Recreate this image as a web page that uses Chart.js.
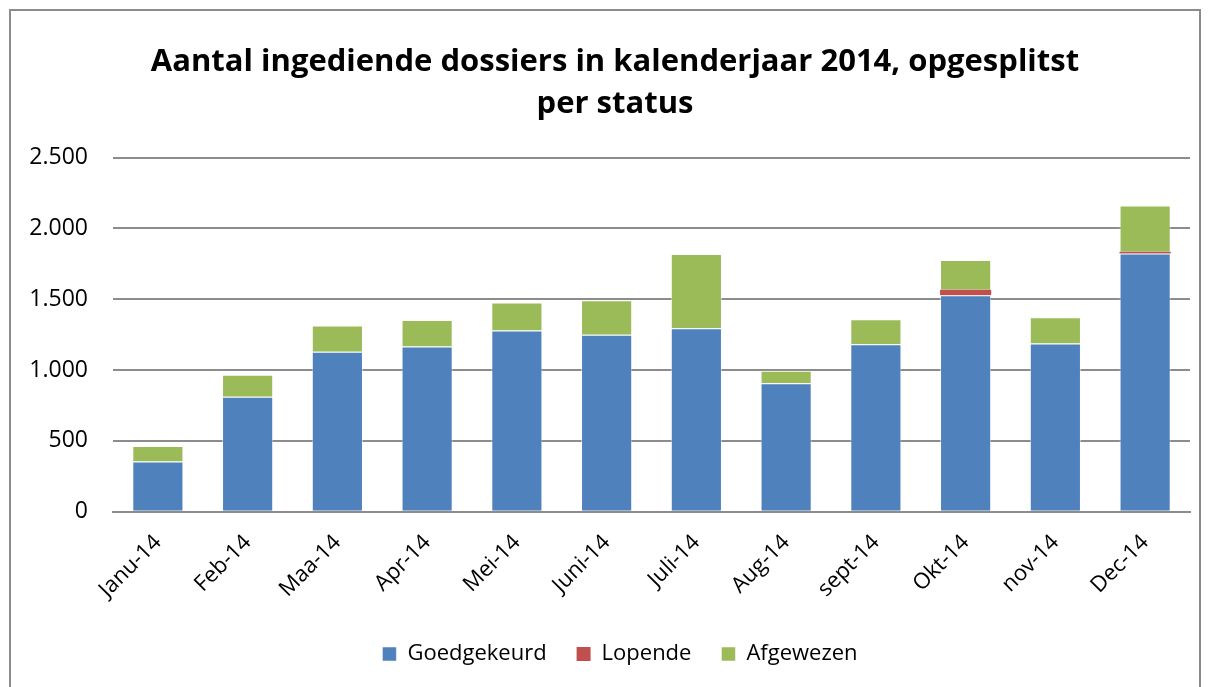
<!DOCTYPE html>
<html>
<head>
<meta charset="utf-8">
<script src="https://cdn.jsdelivr.net/npm/chart.js@4.4.1/dist/chart.umd.min.js"></script>
<style>
  html, body { margin: 0; padding: 0; background: #fff; }
  #wrap { position: relative; width: 1209px; height: 687px; overflow: hidden; }
  #frame { position: absolute; left: 9px; top: 9px; width: 1188px; height: 700px;
           border: 2px solid #8c8c8c; pointer-events: none; }
  canvas { position: absolute; left: 0; top: 0; }
</style>
</head>
<body>
<div id="wrap">
  <canvas id="myChart" width="1209" height="687"></canvas>
  <div id="frame"></div>
</div>
<script>
// months as shown on the x axis
var months = ['Janu-14', 'Feb-14', 'Maa-14', 'Apr-14', 'Mei-14', 'Juni-14',
              'Juli-14', 'Aug-14', 'sept-14', 'Okt-14', 'nov-14', 'Dec-14'];

// values
var goedgekeurd = [354, 812, 1129, 1167, 1280, 1249, 1296, 906, 1183, 1528, 1188, 1824];
var lopende     = [0, 0, 0, 0, 0, 0, 0, 0, 0, 40, 0, 12];
var afgewezen   = [110, 155, 186, 187, 197, 244, 523, 89, 176, 209, 185, 326];

var yTickLabels = ['0', '500', '1.000', '1.500', '2.000', '2.500'];

var font = "'Open Sans', 'DejaVu Sans', sans-serif";

var ctx = document.getElementById('myChart').getContext('2d');

// title and legend sit a bit right of the canvas middle, like the original
var boxShift = {
    id: 'boxShift',
    afterLayout: function (chart) {
        chart.titleBlock.left = 40;
        chart.legend.left = 50;
    }
};

var myChart = new Chart(ctx, {
    type: 'bar',
    data: {
        labels: months,
        datasets: [
            { label: 'Goedgekeurd', data: goedgekeurd, backgroundColor: '#4F81BD',
              borderColor: 'rgba(255,255,255,0.5)', borderWidth: 1 },
            { label: 'Lopende', data: lopende, backgroundColor: '#C0504D',
              borderColor: 'rgba(255,255,255,0.5)', borderWidth: 0 },
            { label: 'Afgewezen', data: afgewezen, backgroundColor: '#9BBB59',
              borderColor: 'rgba(255,255,255,0.5)', borderWidth: 1 }
        ]
    },
    plugins: [boxShift],
    options: {
        responsive: false,
        animation: false,
        layout: { padding: { left: 4, right: 19, top: 41, bottom: 12 } },
        datasets: { bar: { categoryPercentage: 1, barPercentage: 0.57 } },
        scales: {
            x: {
                stacked: true,
                grid: { display: false },
                border: { color: '#8c8c8c', width: 2 },
                ticks: {
                    color: '#000', maxRotation: 45, minRotation: 45, padding: 10,
                    font: { family: font, size: 22 }
                }
            },
            y: {
                stacked: true,
                min: 0, max: 2500,
                afterFit: function (scale) { scale.width = 109; },
                grid: { color: '#8c8c8c', lineWidth: 2, drawTicks: false },
                border: { display: false },
                ticks: {
                    stepSize: 500, padding: 25, color: '#000',
                    font: { family: font, size: 23 },
                    callback: function (v, i) { return yTickLabels[i]; }
                }
            }
        },
        plugins: {
            title: {
                display: true,
                text: ['Aantal ingediende dossiers in kalenderjaar 2014, opgesplitst', 'per status'],
                color: '#000',
                font: { family: font, size: 31, weight: 'bold', lineHeight: 1.35 },
                padding: { top: 0, bottom: 33 }
            },
            legend: {
                position: 'bottom',
                labels: {
                    color: '#000', boxWidth: 14, boxHeight: 14, padding: 30,
                    font: { family: font, size: 22 }
                }
            },
            tooltip: { enabled: false }
        }
    }
});
</script>
</body>
</html>
